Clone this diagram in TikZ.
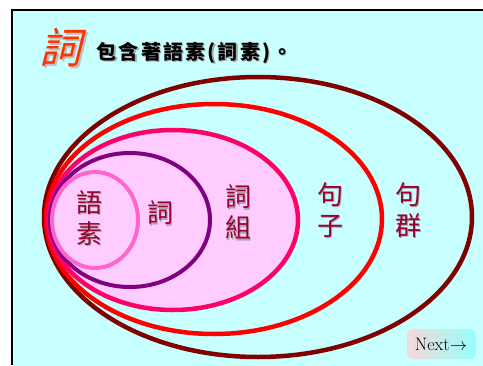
\documentclass[tikz,border=0pt]{standalone}
\usepackage{fontspec}
\newfontfamily\cjk{Noto Sans CJK TC}
\newfontfamily\cjkwide[LetterSpace=11]{Noto Sans CJK TC}
\definecolor{bgcyan}{HTML}{C8FFFF}
\definecolor{wordred}{HTML}{990033}
\definecolor{darkred}{HTML}{800000}
\definecolor{rosered}{HTML}{FF0066}
\definecolor{lightpink}{HTML}{FFCCFF}
\definecolor{purpleline}{HTML}{800080}
\definecolor{pinkline}{HTML}{FF66CC}
\definecolor{titlered}{HTML}{FF3300}
\begin{document}
\begin{tikzpicture}[x=1pt,y=-1pt]
        \tikzstyle{word}=[font=\cjk\fontsize{26}{31}\selectfont,text=wordred,align=center,inner sep=0pt]
        \tikzstyle{wordshadow}=[word,text=black!35]
        \tikzstyle{ring}=[line width=4.5pt]
        \useasboundingbox (0,0) rectangle (483,365);
        \fill[white] (0,0) rectangle (483,365);
        \shade[top color=bgcyan,middle color=bgcyan!20,bottom color=bgcyan] (12,10) rectangle (483,365);
        \draw[line width=2pt] (12,365) -- (12,10) -- (483,10);

        % nested sets
        \draw[ring,darkred] (258,217) ellipse [x radius=214pt,y radius=140pt];
        \draw[ring,red] (214,219) ellipse [x radius=168pt,y radius=115pt];
        \draw[ring,rosered,fill=lightpink] (173,220) ellipse [x radius=125pt,y radius=90pt];
        \draw[line width=4pt,purpleline] (130,220) ellipse [x radius=80pt,y radius=67pt];
        \draw[line width=4pt,pinkline] (95,220) ellipse [x radius=43pt,y radius=48pt];

        % title
        \node [font=\cjk\fontsize{42}{44}\selectfont,text=black!25,xslant=0.25,inner sep=0pt] at (67,49) {詞};
        \node [font=\cjk\fontsize{42}{44}\selectfont,text=titlered,xslant=0.25,inner sep=0pt] (title) at (65,47) {詞};
        \node [font=\cjkwide\bfseries\fontsize{20}{22}\selectfont,text=black!35,anchor=west,inner sep=0pt] at (98,54) {包含著語素(詞素)。};
        \node [font=\cjkwide\bfseries\fontsize{20}{22}\selectfont,anchor=west,inner sep=0pt] (sub) at (96.5,52.5) {包含著語素(詞素)。};

        % labels
        \node [wordshadow] at (90.5,219.5) {語\\素};
        \node [word] (yusu) at (89,218) {語\\素};
        \node [wordshadow] at (161.5,214.5) {詞};
        \node [word] (ci) at (160,213) {詞};
        \node [wordshadow] at (239.5,213.5) {詞\\組};
        \node [word] (cizu) at (238,212) {詞\\組};
        \node [wordshadow] at (331.5,211.5) {句\\子};
        \node [word] (juzi) at (330,210) {句\\子};
        \node [wordshadow] at (409.5,211.5) {句\\群};
        \node [word] (juqun) at (408,210) {句\\群};

        % next button
        \shade[rounded corners=6pt,left color=pink!70,middle color=yellow!50,right color=cyan!45,opacity=0.85] (407,329) rectangle (476,359);
        \node [font=\fontsize{18}{20}\selectfont,inner sep=0pt] (next) at (441,344) {Next$\rightarrow$};
\end{tikzpicture}
\end{document}
